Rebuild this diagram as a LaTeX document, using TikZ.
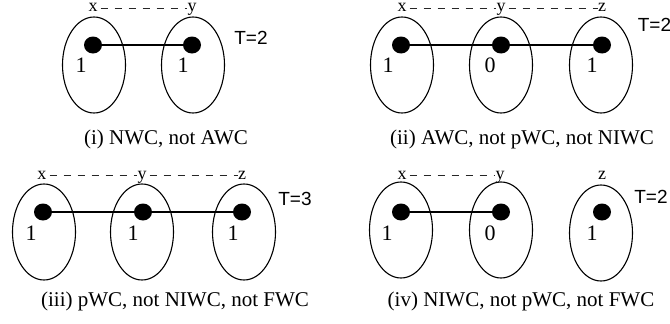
\documentclass[tikz,border=0pt]{standalone}
\usepackage{fontspec}
\setmainfont{Liberation Serif}
\setsansfont{Liberation Sans}
\usetikzlibrary{shapes.geometric}
\begin{document}
\begin{tikzpicture}[x=1pt,y=-1pt,
  set/.style={draw,ellipse,line width=1.1pt,minimum width=63pt,minimum height=96pt,inner sep=0pt},
  dot/.style={fill,ellipse,minimum width=18pt,minimum height=17pt,inner sep=0pt},
  lab/.style={font=\fontsize{18}{18}\selectfont,inner sep=0pt,anchor=base},
  num/.style={font=\fontsize{22}{22}\selectfont,inner sep=0pt},
  tval/.style={font=\sffamily\fontsize{19}{19}\selectfont,inner sep=0pt},
  captxt/.style={font=\fontsize{21}{21}\selectfont,inner sep=0pt},
  linkline/.style={line width=1.8pt},
  dsh/.style={line width=0.8pt,dash pattern=on 7pt off 7pt,black!85}]
\useasboundingbox (0,0) rectangle (670,324);
% panel (i)
\node[set] (a1) at (94,65) {};
\node[set] (a2) at (193,65) {};
\node[dot] (ad1) at (93,45) {};
\node[dot] (ad2) at (192,45) {};
\draw[linkline] (ad1) -- (ad2);
\node[num] (an1) at (81,65) {1};
\node[num] (an2) at (183,65) {1};
\node[lab] (ax) at (93,11.5) {x};
\node[lab] (ay) at (192,11.5) {y};
\draw[dsh] ([yshift=3.5pt,xshift=3pt]ax.base east) -- ([yshift=3.5pt]ay.base west);
\node[tval] (at) at (251,38) {T=2};
\node[captxt] (acap) at (166,139.5) {(i) NWC, not AWC};
% panel (ii)
\node[set] (b1) at (402,65) {};
\node[set] (b2) at (501,65) {};
\node[set] (b3) at (601,65) {};
\node[dot] (bd1) at (401,45) {};
\node[dot] (bd2) at (501,45) {};
\node[dot] (bd3) at (602,45) {};
\draw[linkline] (bd1) -- (bd2) -- (bd3);
\node[num] (bn1) at (388,65) {1};
\node[num] (bn2) at (490,65) {0};
\node[num] (bn3) at (592,65) {1};
\node[lab] (bx) at (402,11.5) {x};
\node[lab] (by) at (501,11.5) {y};
\node[lab] (bz) at (602,11.5) {z};
\draw[dsh] ([yshift=3.5pt,xshift=3pt]bx.base east) -- ([yshift=3.5pt]by.base west);
\draw[dsh] ([yshift=3.5pt,xshift=3pt]by.base east) -- ([yshift=3.5pt]bz.base west);
\node[tval] (bt) at (654.5,25) {T=2};
\node[captxt] (bcap) at (522,139.5) {(ii) AWC, not pWC, not NIWC};
% panel (iii)
\node[set] (c1) at (44,232) {};
\node[set] (c2) at (142,232) {};
\node[set] (c3) at (244,232) {};
\node[dot] (cd1) at (43,212) {};
\node[dot] (cd2) at (143,212) {};
\node[dot] (cd3) at (242,212) {};
\draw[linkline] (cd1) -- (cd2) -- (cd3);
\node[num] (cn1) at (31,233) {1};
\node[num] (cn2) at (133,233) {1};
\node[num] (cn3) at (233,233) {1};
\node[lab] (cx) at (42,179) {x};
\node[lab] (cy) at (142,179) {y};
\node[lab] (cz) at (242,179) {z};
\draw[dsh] ([yshift=3.5pt,xshift=3pt]cx.base east) -- ([yshift=3.5pt]cy.base west);
\draw[dsh] ([yshift=3.5pt,xshift=3pt]cy.base east) -- ([yshift=3.5pt]cz.base west);
\node[tval] (ct) at (295,199) {T=3};
\node[captxt] (ccap) at (175,301) {(iii) pWC, not NIWC, not FWC};
% panel (iv)
\node[set] (d1) at (401,230) {};
\node[set] (d2) at (501,230) {};
\node[set] (d3) at (601,233) {};
\node[dot] (dd1) at (401,212) {};
\node[dot] (dd2) at (501,212) {};
\node[dot] (dd3) at (602,212) {};
\draw[linkline] (dd1) -- (dd2);
\node[num] (dn1) at (387,233) {1};
\node[num] (dn2) at (490,233) {0};
\node[num] (dn3) at (592,233) {1};
\node[lab] (dx) at (402,179) {x};
\node[lab] (dy) at (500,179) {y};
\node[lab] (dz) at (602,179) {z};
\draw[dsh] ([yshift=3.5pt,xshift=3pt]dx.base east) -- ([yshift=3.5pt]dy.base west);
\node[tval] (dt) at (651,196.5) {T=2};
\node[captxt] (dcap) at (521,301) {(iv) NIWC, not pWC, not FWC};
\end{tikzpicture}
\end{document}
